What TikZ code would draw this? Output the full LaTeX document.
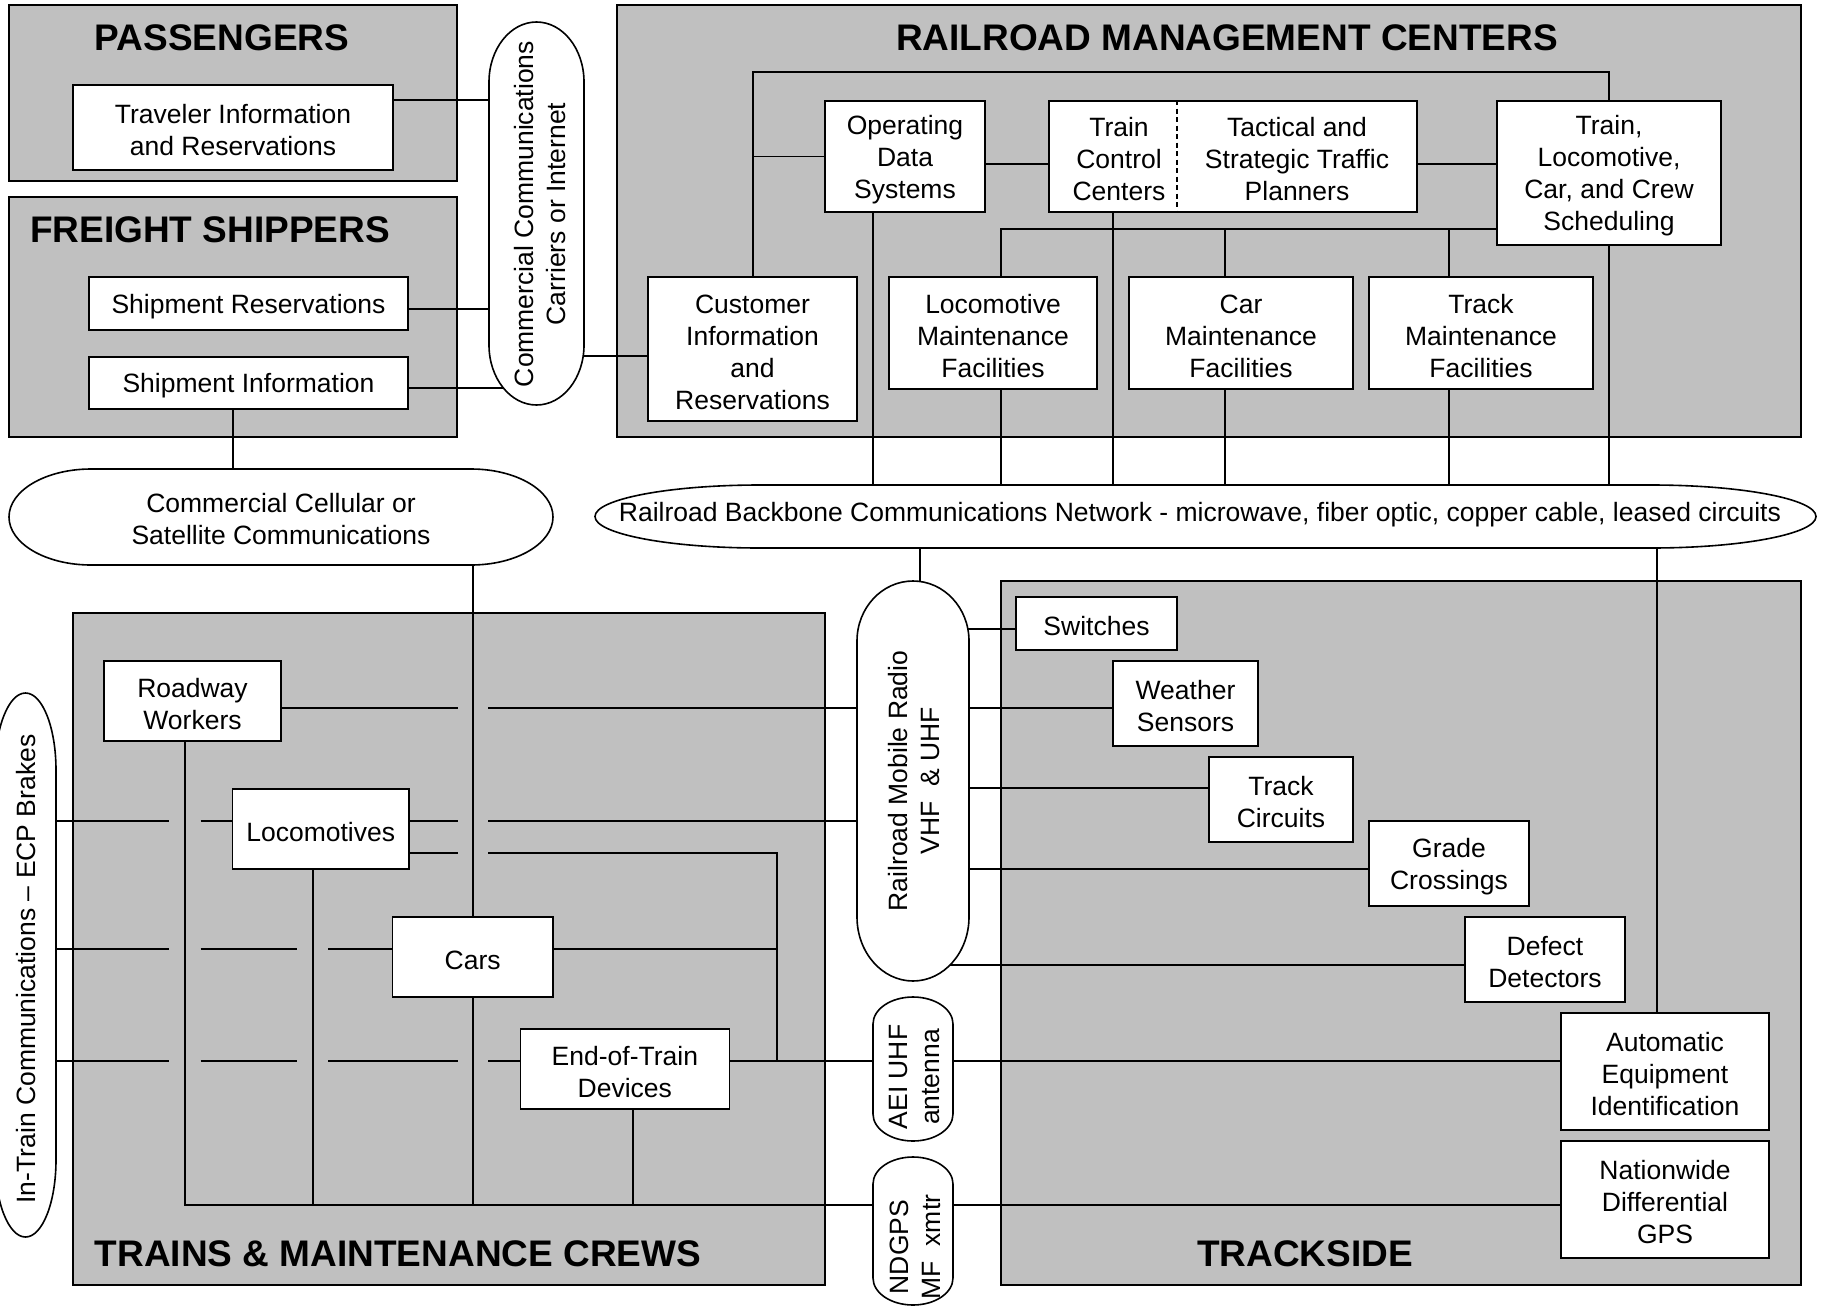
\documentclass[tikz,border=0pt]{standalone}
\usepackage{fontspec}
\setmainfont{Liberation Sans}
\definecolor{panelgray}{RGB}{192,192,192}
\newcommand{\rrtext}{\fontsize{26.5}{32}\selectfont}
\newcommand{\rrtitle}{\fontsize{37}{44}\selectfont\bfseries}
\tikzset{
  panel/.style={draw=black, fill=panelgray, line width=1.6pt, inner sep=0pt},
  box/.style={draw=black, fill=white, line width=1.6pt, inner sep=0pt},
  pill/.style={draw=black, fill=white, line width=1.6pt},
  ptext/.style={align=center, font=\rrtext, inner sep=0pt},
  title/.style={font=\rrtitle, inner sep=0pt},
  wire/.style={draw=black, line width=1.6pt},
  divider/.style={draw=black, line width=1.2pt, dash pattern=on 5pt off 3.5pt}
}
% box node: name, x1, y1, x2, y2, text
\newcommand{\rrbox}[6]{%
  \node[box, minimum width=#4pt-#2pt, minimum height=#5pt-#3pt] (#1) at ({(#2+#4)/2},{(#3+#5)/2}) {};
  \node[ptext, yshift=-3pt] (#1-t) at (#1.center) {#6};}
\newcommand{\rrpanel}[5]{%
  \node[panel, minimum width=#4pt-#2pt, minimum height=#5pt-#3pt] (#1) at ({(#2+#4)/2},{(#3+#5)/2}) {};}
% horizontal pill with elliptic ends: x1 y1 x2 y2 rx
\newcommand{\hpill}[5]{%
  \pgfmathsetmacro\pilA{#1+#5}%
  \pgfmathsetmacro\pilB{#3-#5}%
  \pgfmathsetmacro\pilC{(#2+#4)/2}%
  \pgfmathsetmacro\pilD{0.5523*#5}%
  \pgfmathsetmacro\pilE{0.5523*(#4-#2)/2}%
  \draw[pill] (\pilA,#2) -- (\pilB,#2)
    .. controls ({\pilB+\pilD},#2) and (#3,{\pilC-\pilE}) .. (#3,\pilC)
    .. controls (#3,{\pilC+\pilE}) and ({\pilB+\pilD},#4) .. (\pilB,#4)
    -- (\pilA,#4)
    .. controls ({\pilA-\pilD},#4) and (#1,{\pilC+\pilE}) .. (#1,\pilC)
    .. controls (#1,{\pilC-\pilE}) and ({\pilA-\pilD},#2) .. cycle;}
% vertical pill: x1 y1 x2 y2 ry-top ry-bottom
\newcommand{\vpill}[6]{%
  \pgfmathsetmacro\pilA{#2+#5}%
  \pgfmathsetmacro\pilB{#4-#6}%
  \pgfmathsetmacro\pilC{(#1+#3)/2}%
  \pgfmathsetmacro\pilD{0.5523*(#3-#1)/2}%
  \pgfmathsetmacro\pilE{0.5523*#5}%
  \pgfmathsetmacro\pilF{0.5523*#6}%
  \draw[pill] (#1,\pilA)
    .. controls (#1,{\pilA-\pilE}) and ({\pilC-\pilD},#2) .. (\pilC,#2)
    .. controls ({\pilC+\pilD},#2) and (#3,{\pilA-\pilE}) .. (#3,\pilA)
    -- (#3,\pilB)
    .. controls (#3,{\pilB+\pilF}) and ({\pilC+\pilD},#4) .. (\pilC,#4)
    .. controls ({\pilC-\pilD},#4) and (#1,{\pilB+\pilF}) .. (#1,\pilB)
    -- cycle;}
\begin{document}
\begin{tikzpicture}[x=1pt,y=-1pt]
\useasboundingbox (0,0) rectangle (1824,1307);
\fill[white] (0,0) rectangle (1824,1307);

% ---------- panels ----------
\rrpanel{pPass}{9}{5}{457}{181}
\rrpanel{pFreight}{9}{197}{457}{437}
\rrpanel{pRMC}{617}{5}{1801}{437}
\rrpanel{pTrains}{73}{613}{825}{1285}
\rrpanel{pTrack}{1001}{581}{1801}{1285}

\node[title] (tPass) at (222,38) {PASSENGERS};
\node[title] (tFreight) at (210,230) {FREIGHT SHIPPERS};
\node[title] (tRMC) at (1227,38) {RAILROAD MANAGEMENT CENTERS};
\node[title] (tTrains) at (398,1254) {TRAINS \& MAINTENANCE CREWS};
\node[title] (tTrack) at (1305,1254) {TRACKSIDE};

% ---------- pills ----------
\vpill{489}{22}{584}{405}{60}{60}
\node[ptext, rotate=90] (ccp) at (540,214) {Commercial Communications\\Carriers or Internet};
\hpill{9}{469}{553}{565}{82}
\node[ptext] (cellp) at (281,519) {Commercial Cellular or\\Satellite Communications};
\hpill{595}{485}{1816}{548}{165}
\node[ptext] (bbp) at (1200,515) {Railroad Backbone Communications Network - microwave, fiber optic, copper cable, leased circuits};
\vpill{857}{581}{969}{981}{60}{64}
\node[ptext, rotate=90] (rmr) at (914,781) {Railroad Mobile Radio\\VHF~~\& UHF};
\vpill{873}{997}{953}{1141}{27}{27}
\node[ptext, rotate=90] (aeip) at (915,1077) {AEI UHF\\antenna};
\vpill{873}{1157}{953}{1305}{27}{27}
\node[ptext, rotate=90] (ndp) at (915,1247) {NDGPS\\MF~~xmtr};
\vpill{-5}{693}{56}{1237}{77}{77}
\node[ptext, rotate=90] (itc) at (26,969) {In-Train Communications – ECP Brakes};

% ---------- boxes ----------
\rrbox{trav}{73}{85}{393}{170}{Traveler Information\\and Reservations}
\rrbox{shres}{89}{277}{408}{330}{Shipment Reservations}
\rrbox{shinf}{89}{357}{408}{409}{Shipment Information}

\rrbox{ods}{825}{101}{985}{212}{Operating\\Data\\Systems}
\rrbox{tcc}{1049}{101}{1417}{212}{}
\node[ptext] (tccL) at (1119,159.5) {Train\\Control\\Centers};
\node[ptext] (tccR) at (1297,159.5) {Tactical and\\Strategic Traffic\\Planners};
\coordinate (tcdiv) at (1177,156.5);
\draw[divider] (tcc.north -| tcdiv) -- (tcc.south -| tcdiv);
\rrbox{sched}{1497}{101}{1721}{245}{Train,\\Locomotive,\\Car, and Crew\\Scheduling}
\rrbox{cust}{648}{277}{857}{421}{Customer\\Information\\and\\Reservations}
\rrbox{lmf}{889}{277}{1097}{389}{Locomotive\\Maintenance\\Facilities}
\rrbox{cmf}{1129}{277}{1353}{389}{Car\\Maintenance\\Facilities}
\rrbox{tmf}{1369}{277}{1593}{389}{Track\\Maintenance\\Facilities}

\rrbox{rw}{104}{661}{281}{741}{Roadway\\Workers}
\rrbox{loco}{232.5}{789}{409}{869}{Locomotives}
\rrbox{cars}{392.6}{917}{552.8}{997}{Cars}
\rrbox{eot}{520.4}{1029}{729.3}{1109}{End-of-Train\\Devices}

\rrbox{sw}{1016}{597}{1177}{650}{Switches}
\rrbox{ws}{1113}{661}{1258}{746}{Weather\\Sensors}
\rrbox{tc}{1209}{757}{1353}{842}{Track\\Circuits}
\rrbox{gc}{1369}{821}{1529}{906}{Grade\\Crossings}
\rrbox{dd}{1465}{917}{1625}{1002}{Defect\\Detectors}
\rrbox{aei}{1561}{1013}{1769}{1130}{Automatic\\Equipment\\Identification}
\rrbox{nd}{1561}{1141}{1769}{1258}{Nationwide\\Differential\\GPS}

% ---------- attachment points ----------
\coordinate (ccL1) at (489,100);
\coordinate (ccL2) at (489,309);
\coordinate (ccL3) at (503.5,388);
\coordinate (ccR) at (583.5,356);
\coordinate (cellT) at (233,469);
\coordinate (cellB) at (473,565);
\coordinate (rmTop) at (753,72);
\coordinate (l164) at (0,164);
\coordinate (mBus) at (1001,229);
\coordinate (cmfX) at (1224.7,229);
\coordinate (tmfX) at (1448.7,229);
\coordinate (odsX) at (873,485);
\coordinate (tccX) at (1113,485);
\coordinate (lmfX) at (1001,485);
\coordinate (cmfB) at (1224.7,485);
\coordinate (tmfB) at (1448.7,485);
\coordinate (schX) at (1609,485);
\coordinate (bbB1) at (920,548);
\coordinate (rmT) at (920,581.5);
\coordinate (bbB2) at (1657,548);
\coordinate (rR1) at (967.6,629);
\coordinate (rR2) at (969,708);
\coordinate (rR3) at (969,788);
\coordinate (rR4) at (969,869);
\coordinate (rR5) at (950,965);
\coordinate (rL1) at (857,708);
\coordinate (rL2) at (857,821);
\coordinate (aeiL) at (873,1061);
\coordinate (aeiR) at (953,1061);
\coordinate (ndL) at (873,1205);
\coordinate (ndR) at (953,1205);
\coordinate (itR1) at (56,821);
\coordinate (itR2) at (56,949);
\coordinate (itR3) at (56,1061);
\coordinate (busL) at (184.7,1205);
\coordinate (locoV) at (312.8,1205);
\coordinate (eotV) at (632.8,1205);
\coordinate (lp2) at (777,853);

% ---------- connectors: passengers / shippers ----------
\draw[wire] (trav.east |- ccL1) -- (ccL1);
\draw[wire] (shres.east |- ccL2) -- (ccL2);
\draw[wire] (shinf.east |- ccL3) -- (ccL3);
\draw[wire] (ccR) -- (cust.west |- ccR);
\draw[wire] (shinf.south -| cellT) -- (cellT);
\draw[wire] (cellB) -- (cars.north -| cellB);

% ---------- railroad management centers ----------
\draw[wire] (cust.north -| rmTop) -- (rmTop) -- (rmTop -| sched.north) -- (sched.north);
\draw[wire] (ods.west) -- (ods.west -| rmTop);
\draw[wire] (ods.east |- l164) -- (tcc.west |- l164);
\draw[wire] (tcc.east |- l164) -- (sched.west |- l164);
\draw[wire] (lmf.north -| mBus) -- (mBus) -- (mBus -| sched.west);
\draw[wire] (cmfX) -- (cmf.north -| cmfX);
\draw[wire] (tmfX) -- (tmf.north -| tmfX);
\draw[wire] (ods.south -| odsX) -- (odsX);
\draw[wire] (tcc.south -| tccX) -- (tccX);
\draw[wire] (lmf.south -| lmfX) -- (lmfX);
\draw[wire] (cmf.south -| cmfB) -- (cmfB);
\draw[wire] (tmf.south -| tmfB) -- (tmfB);
\draw[wire] (sched.south -| schX) -- (schX);

% ---------- backbone to field ----------
\draw[wire] (bbB1) -- (rmT);
\draw[wire] (bbB2) -- (aei.north -| bbB2);

% ---------- radio to trackside ----------
\draw[wire] (rR1) -- (sw.west |- rR1);
\draw[wire] (rR2) -- (ws.west |- rR2);
\draw[wire] (rR3) -- (tc.west |- rR3);
\draw[wire] (rR4) -- (gc.west |- rR4);
\draw[wire] (rR5) -- (dd.west |- rR5);
\draw[wire] (aeiR) -- (aei.west |- aeiR);
\draw[wire] (ndR) -- (nd.west |- ndR);

% ---------- trains & maintenance crews ----------
% roadway workers row
\draw[wire] (rw.east |- rL1) -- (457.5,708);
\draw[wire] (488,708) -- (rL1);
% locomotives row 1
\draw[wire] (itR1) -- (169,821);
\draw[wire] (200.5,821) -- (loco.west |- itR1);
\draw[wire] (loco.east |- itR1) -- (457.5,821);
\draw[wire] (488,821) -- (rL2);
% locomotives row 2
\draw[wire] (loco.east |- lp2) -- (457.5,853);
\draw[wire] (488,853) -- (lp2) -- (lp2 |- aeiL);
% cars row
\draw[wire] (itR2) -- (169,949);
\draw[wire] (200.5,949) -- (297.4,949);
\draw[wire] (328,949) -- (cars.west |- itR2);
\draw[wire] (cars.east |- itR2) -- (lp2 |- itR2);
% end-of-train row
\draw[wire] (itR3) -- (169,1061);
\draw[wire] (200.5,1061) -- (297.4,1061);
\draw[wire] (328,1061) -- (457.5,1061);
\draw[wire] (488,1061) -- (eot.west |- itR3);
\draw[wire] (eot.east |- aeiL) -- (aeiL);
% verticals and bottom bus
\draw[wire] (rw.south -| busL) -- (busL) -- (ndL);
\draw[wire] (loco.south -| locoV) -- (locoV);
\draw[wire] (cars.south -| cellB) -- (cellB |- busL);
\draw[wire] (eot.south -| eotV) -- (eotV);
\end{tikzpicture}
\end{document}
